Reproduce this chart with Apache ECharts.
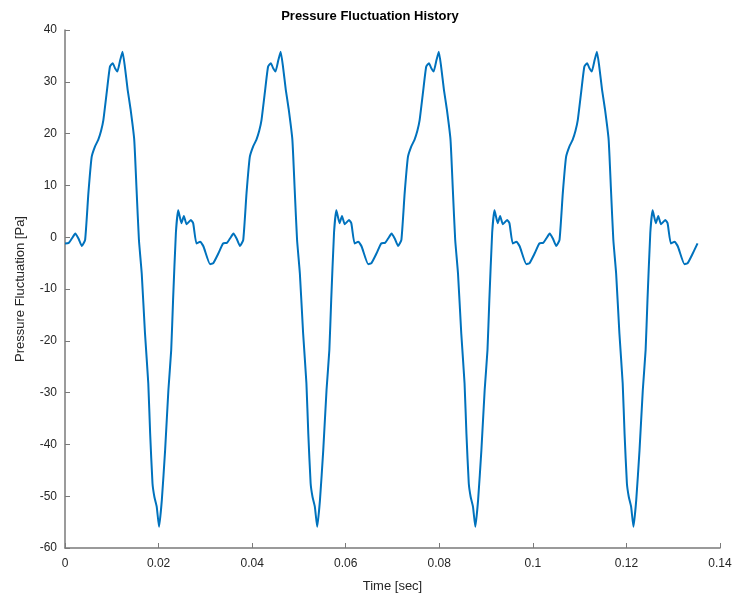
<!DOCTYPE html>
<html>
<head>
<meta charset="utf-8">
<script src="https://cdn.jsdelivr.net/npm/echarts@6/dist/echarts.min.js"></script>
<style>
  html, body { margin: 0; padding: 0; background: #fff; }
  #chart { width: 740px; height: 600px; }
</style>
</head>
<body>
<div id="chart"></div>
<script>
// values, one array pair per cycle
const time1 = [0, 0.0008, 0.0015, 0.0022, 0.0029, 0.0036, 0.0043, 0.0050, 0.0057, 0.0064, 0.0071, 0.0077, 0.0082, 0.0089, 0.0096, 0.0102, 0.0107, 0.0112, 0.0118, 0.0123, 0.0128, 0.0134, 0.0140, 0.0148, 0.0153, 0.0158, 0.0164, 0.0171, 0.0178, 0.0182, 0.0187, 0.0191, 0.0196, 0.0201, 0.0207, 0.0214, 0.0221, 0.0227, 0.0231, 0.0237, 0.0242, 0.0249, 0.0254, 0.0260, 0.0269, 0.0274, 0.0281, 0.0289, 0.0296, 0.0310, 0.0317, 0.0328];
const time2 = [0.0338, 0.0346, 0.0353, 0.0360, 0.0367, 0.0374, 0.0381, 0.0388, 0.0395, 0.0402, 0.0409, 0.0415, 0.0420, 0.0427, 0.0434, 0.0440, 0.0445, 0.0450, 0.0456, 0.0461, 0.0466, 0.0472, 0.0478, 0.0486, 0.0491, 0.0496, 0.0502, 0.0509, 0.0516, 0.0520, 0.0525, 0.0529, 0.0534, 0.0539, 0.0545, 0.0552, 0.0559, 0.0565, 0.0569, 0.0575, 0.0580, 0.0587, 0.0592, 0.0598, 0.0607, 0.0612, 0.0619, 0.0627, 0.0634, 0.0648, 0.0655, 0.0666];
const time3 = [0.0676, 0.0684, 0.0691, 0.0698, 0.0705, 0.0712, 0.0719, 0.0726, 0.0733, 0.0740, 0.0747, 0.0753, 0.0758, 0.0765, 0.0772, 0.0778, 0.0783, 0.0788, 0.0794, 0.0799, 0.0804, 0.0810, 0.0816, 0.0824, 0.0829, 0.0834, 0.0840, 0.0847, 0.0854, 0.0858, 0.0863, 0.0867, 0.0872, 0.0877, 0.0883, 0.0890, 0.0897, 0.0903, 0.0907, 0.0913, 0.0918, 0.0925, 0.0930, 0.0936, 0.0945, 0.0950, 0.0957, 0.0965, 0.0972, 0.0986, 0.0993, 0.1004];
const time4 = [0.1014, 0.1022, 0.1029, 0.1036, 0.1043, 0.1050, 0.1057, 0.1064, 0.1071, 0.1078, 0.1085, 0.1091, 0.1096, 0.1103, 0.1110, 0.1116, 0.1121, 0.1126, 0.1132, 0.1137, 0.1142, 0.1148, 0.1154, 0.1162, 0.1167, 0.1172, 0.1178, 0.1185, 0.1192, 0.1196, 0.1201, 0.1205, 0.1210, 0.1215, 0.1221, 0.1228, 0.1235, 0.1241, 0.1245, 0.1251, 0.1256, 0.1263, 0.1268, 0.1274, 0.1283, 0.1288, 0.1295, 0.1303, 0.1310, 0.1324, 0.1331, 0.1342, 0.1352];

const pressure1 = [-1.2, -1.1, -0.2, 0.7, -0.3, -1.7, -0.5, 8.5, 15.5, 17.5, 18.8, 20.5, 22.6, 27.8, 32.9, 33.6, 32.6, 32, 34.2, 35.8, 32.9, 28.4, 24.8, 18.8, 9.1, -0.5, -7, -18.6, -28.2, -37.9, -47.5, -50.1, -52, -55.9, -50.7, -41.1, -29.5, -21.8, -12.1, 0.8, 5.2, 2.7, 4.1, 2.5, 3.3, 2.7, -1.2, -0.9, -1.8, -5.2, -5, -3.1];
const pressure2 = [-1.2, -1.1, -0.2, 0.7, -0.3, -1.7, -0.5, 8.5, 15.5, 17.5, 18.8, 20.5, 22.6, 27.8, 32.9, 33.6, 32.6, 32, 34.2, 35.8, 32.9, 28.4, 24.8, 18.8, 9.1, -0.5, -7, -18.6, -28.2, -37.9, -47.5, -50.1, -52, -55.9, -50.7, -41.1, -29.5, -21.8, -12.1, 0.8, 5.2, 2.7, 4.1, 2.5, 3.3, 2.7, -1.2, -0.9, -1.8, -5.2, -5, -3.1];
const pressure3 = [-1.2, -1.1, -0.2, 0.7, -0.3, -1.7, -0.5, 8.5, 15.5, 17.5, 18.8, 20.5, 22.6, 27.8, 32.9, 33.6, 32.6, 32, 34.2, 35.8, 32.9, 28.4, 24.8, 18.8, 9.1, -0.5, -7, -18.6, -28.2, -37.9, -47.5, -50.1, -52, -55.9, -50.7, -41.1, -29.5, -21.8, -12.1, 0.8, 5.2, 2.7, 4.1, 2.5, 3.3, 2.7, -1.2, -0.9, -1.8, -5.2, -5, -3.1];
const pressure4 = [-1.2, -1.1, -0.2, 0.7, -0.3, -1.7, -0.5, 8.5, 15.5, 17.5, 18.8, 20.5, 22.6, 27.8, 32.9, 33.6, 32.6, 32, 34.2, 35.8, 32.9, 28.4, 24.8, 18.8, 9.1, -0.5, -7, -18.6, -28.2, -37.9, -47.5, -50.1, -52, -55.9, -50.7, -41.1, -29.5, -21.8, -12.1, 0.8, 5.2, 2.7, 4.1, 2.5, 3.3, 2.7, -1.2, -0.9, -1.8, -5.2, -5, -3.1, -1.2];

const allTime = time1.concat(time2, time3, time4);
const allPressure = pressure1.concat(pressure2, pressure3, pressure4);
const points = allTime.map((t, i) => [t, allPressure[i]]);

const font = 'Liberation Sans, Arial, Helvetica, sans-serif';
const axisColor = '#7a7a7a';
const textColor = '#262626';

const chart = echarts.init(document.getElementById('chart'));
chart.setOption({
    animation: false,
    title: {
        text: 'Pressure Fluctuation History',
        left: 'center',
        top: 5,
        textStyle: { fontFamily: font, fontSize: 13, fontWeight: 'bold', color: '#000' }
    },
    grid: { left: 65, right: 20, top: 30, bottom: 52 },
    xAxis: {
        type: 'value',
        min: 0,
        max: 0.14,
        interval: 0.02,
        name: 'Time [sec]',
        nameLocation: 'middle',
        nameGap: 32,
        nameTextStyle: { fontFamily: font, fontSize: 13, color: textColor },
        axisLine: { onZero: false, lineStyle: { color: axisColor, width: 1.5 } },
        axisTick: { inside: true, length: 5, lineStyle: { color: axisColor } },
        axisLabel: { fontFamily: font, fontSize: 12, color: textColor, margin: 10 },
        splitLine: { show: false }
    },
    yAxis: {
        type: 'value',
        min: -60,
        max: 40,
        interval: 10,
        name: 'Pressure Fluctuation [Pa]',
        nameLocation: 'middle',
        nameGap: 38,
        nameTextStyle: { fontFamily: font, fontSize: 13, color: textColor },
        axisLine: { show: true, onZero: false, lineStyle: { color: axisColor, width: 1.5 } },
        axisTick: { show: true, inside: true, length: 5, lineStyle: { color: axisColor } },
        axisLabel: { fontFamily: font, fontSize: 12, color: textColor, margin: 8 },
        splitLine: { show: false }
    },
    series: [{
        type: 'line',
        data: points,
        showSymbol: false,
        smooth: 0.15,
        lineStyle: { color: '#0072BD', width: 2 }
    }]
});
</script>
</body>
</html>
